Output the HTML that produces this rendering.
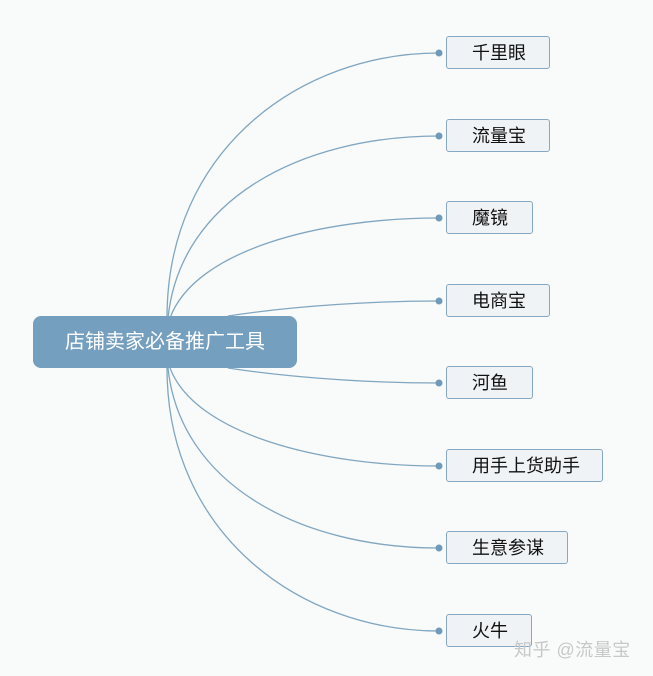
<!DOCTYPE html>
<html><head><meta charset="utf-8"><style>
body{margin:0;width:653px;height:676px;background:#f9fafa;position:relative;overflow:hidden;font-family:"Liberation Sans","Noto Sans CJK SC",sans-serif;}
.root{position:absolute;left:33px;top:316px;width:264px;height:52px;background:#759fbe;border-radius:8px;color:#fff;font-size:20px;line-height:52px;text-align:center;}
.n{position:absolute;left:446px;height:33px;border:1px solid #86a8c2;border-radius:3px;background:#f0f3f6;color:#111;font-size:18px;line-height:33px;padding-left:25px;box-sizing:border-box;}
.wm{position:absolute;left:514px;top:636px;font-size:18px;color:#c8c8c8;letter-spacing:0.5px;}
svg{position:absolute;left:0;top:0}
</style></head><body>
<svg width="653" height="676">
<g fill="none" stroke="#80a6c0" stroke-width="1.3">
<path d="M167 318 C167 150,300 53,439 53"/>
<path d="M168 318 C180 200,300 136,439 136"/>
<path d="M170 318 C195 250,320 218,439 218"/>
<path d="M228 316 C300 305,380 301,439 301"/>
<path d="M228 368 C300 379,380 383,439 383"/>
<path d="M170 368 C195 434,320 466,439 466"/>
<path d="M168 368 C180 484,300 548,439 548"/>
<path d="M167 368 C167 534,300 631,439 631"/>
</g>
<g fill="#6f9bbb">
<circle cx="439" cy="53" r="3.5"/><circle cx="439" cy="136" r="3.5"/><circle cx="439" cy="218" r="3.5"/><circle cx="439" cy="301" r="3.5"/>
<circle cx="439" cy="383" r="3.5"/><circle cx="439" cy="466" r="3.5"/><circle cx="439" cy="548" r="3.5"/><circle cx="439" cy="631" r="3.5"/>
</g>
</svg>
<div class="root">店铺卖家必备推广工具</div>
<div class="n" style="top:36px;width:104px">千里眼</div>
<div class="n" style="top:119px;width:104px">流量宝</div>
<div class="n" style="top:201px;width:87px">魔镜</div>
<div class="n" style="top:284px;width:104px">电商宝</div>
<div class="n" style="top:366px;width:87px">河鱼</div>
<div class="n" style="top:449px;width:157px">用手上货助手</div>
<div class="n" style="top:531px;width:122px">生意参谋</div>
<div class="n" style="top:614px;width:86px">火牛</div>
<div class="wm">知乎 @流量宝</div>
</body></html>
